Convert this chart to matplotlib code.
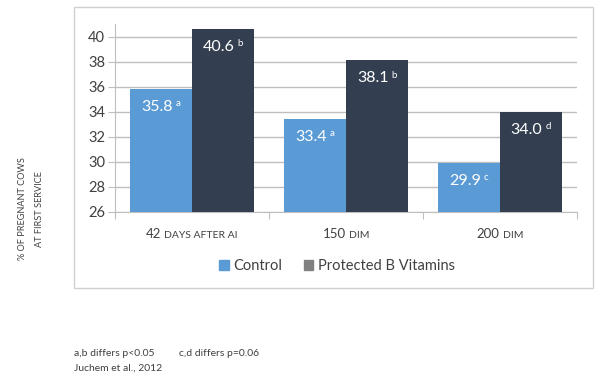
import matplotlib
matplotlib.use("Agg")
import matplotlib.pyplot as plt
from matplotlib.patches import Rectangle, Patch
from matplotlib.offsetbox import TextArea, HPacker, AnnotationBbox

plt.rcParams['font.family'] = ['Lato', 'DejaVu Sans']

cat_num = ["42", "150", "200"]
cat_caps = ["DAYS AFTER AI", "DIM", "DIM"]
control = [35.8, 33.4, 29.9]
protected = [40.6, 38.1, 34.0]
control_sup = ["a", "a", "c"]
protected_sup = ["b", "b", "d"]
series_names = ["Control", "Protected B Vitamins"]
yticks = [26, 28, 30, 32, 34, 36, 38, 40]

c_blue = "#5B9BD5"
c_dark = "#333F50"
c_legend_dark = "#808080"
grid_c = "#BFBFBF"
text_c = "#404040"

fig = plt.figure(figsize=(6, 3.86), dpi=100)
ax = fig.add_axes([115/600, 1-212/386, (577-115)/600, (212-24)/386])

x = list(range(len(cat_num)))
w = 0.4
xc = [i - w/2 for i in x]
xp = [i + w/2 for i in x]
ax.bar(xc, [v - 26 for v in control], bottom=26, width=w, color=c_blue, zorder=3)
ax.bar(xp, [v - 26 for v in protected], bottom=26, width=w, color=c_dark, zorder=3)

ax.set_xlim(-0.5, 2.5)
ax.set_ylim(26, 41)
ax.set_yticks(yticks)
ax.set_yticklabels([str(t) for t in yticks], fontsize=10.5, color=text_c)
ax.yaxis.grid(True, color=grid_c, linewidth=1, zorder=0)
ax.set_axisbelow(True)
for s in ["top", "right"]:
    ax.spines[s].set_visible(False)
for s in ["left", "bottom"]:
    ax.spines[s].set_color(grid_c)
ax.tick_params(axis='y', length=5, color=grid_c, pad=2)
ax.set_xticks([-0.5, 0.5, 1.5, 2.5])
ax.set_xticklabels([])
ax.tick_params(axis='x', length=5, color=grid_c)

# value labels with superscripts
def value_label(xpos, val, sup):
    main = ax.annotate(f"{val:.1f}", xy=(xpos, val), xytext=(-3, -13),
                       textcoords="offset points", ha='center', va='center',
                       color="white", fontsize=11.5, zorder=5)
    ax.annotate(sup, xy=(1, 0.56), xycoords=main, xytext=(2, 0),
                textcoords="offset points", ha='left', va='baseline',
                color="white", fontsize=7, zorder=5)

for i in x:
    value_label(xc[i], control[i], control_sup[i])
    value_label(xp[i], protected[i], protected_sup[i])

# category labels (small caps style)
for i in x:
    n = TextArea(cat_num[i], textprops=dict(color=text_c, fontsize=9.5))
    c = TextArea(cat_caps[i], textprops=dict(color=text_c, fontsize=7.5))
    box = HPacker(children=[n, c], align="baseline", pad=0, sep=2)
    ab = AnnotationBbox(box, (i, 0), xybox=(0, -16), xycoords=('data', 'axes fraction'),
                        boxcoords="offset points", box_alignment=(0.5, 0.5),
                        frameon=False, annotation_clip=False)
    ax.add_artist(ab)

# legend
handles = [Patch(color=c_blue), Patch(color=c_legend_dark)]
fig.legend(handles, series_names, loc='center', bbox_to_anchor=(337/600, 1-266/386),
           ncol=2, frameon=False, fontsize=10.5, handlelength=0.65, handleheight=0.65,
           handletextpad=0.3, columnspacing=1.5, labelcolor=text_c)

# frame around chart
fig.patches.append(Rectangle((74/600, 1-288/386), (593-74)/600, (288-7)/386,
                             transform=fig.transFigure, fill=False,
                             edgecolor="#D0D0D0", linewidth=1))

# y label
fig.text(31/600, 1-209/386, "% OF PREGNANT COWS\nAT FIRST SERVICE", rotation=90,
         ha='center', va='center', fontsize=6.6, color=text_c, linespacing=2.0,
         multialignment='center')

# footnotes
fig.text(74/600, 1-353/386, "a,b differs p<0.05", fontsize=7.5, color=text_c, va='center')
fig.text(179/600, 1-353/386, "c,d differs p=0.06", fontsize=7.5, color=text_c, va='center')
fig.text(74/600, 1-368/386, "Juchem et al., 2012", fontsize=7.5, color=text_c, va='center')

fig.savefig("out.png", dpi=100)
